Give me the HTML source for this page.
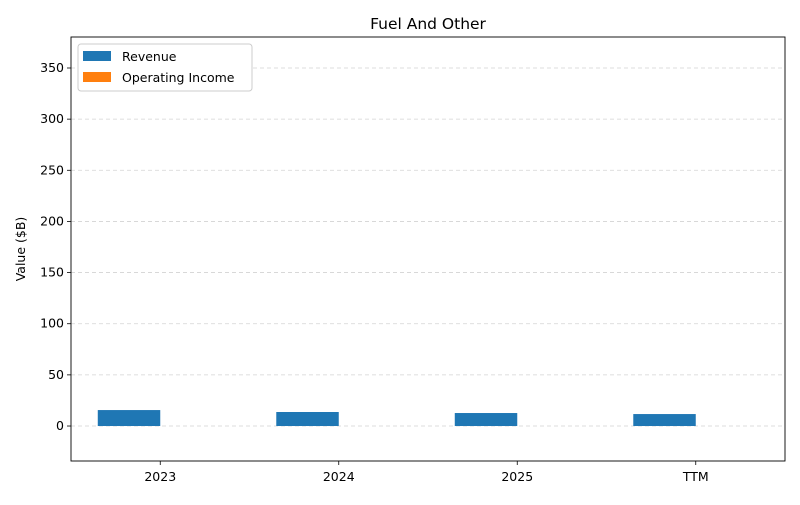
<!DOCTYPE html>
<html><head><meta charset="utf-8"><style>
body{margin:0;background:#fff;font-family:"Liberation Sans","DejaVu Sans",sans-serif}
svg text{font-family:"DejaVu Sans","Liberation Sans",sans-serif}
</style></head><body>
<svg id="c" width="800" height="500" viewBox="0 0 800 500"></svg>
<script>
const categories=["2023","2024","2025","TTM"];
const revenue=[15.6,13.7,12.7,11.7];
const operatingIncome=[0,0,0,0];
const yTicks=[0,50,100,150,200,250,300,350];
const L=71,R=785,T=37,B=461,yMin=-34.2,yMax=380.3;
const NS="http://www.w3.org/2000/svg";
const svg=document.getElementById('c');
function y(v){return B-(v-yMin)/(yMax-yMin)*(B-T);}
const step=(R-L)/categories.length;
function xc(i){return L+step*(i+0.5);}
const bw=step*0.35;
function el(t,a,p){const e=document.createElementNS(NS,t);for(const k in a)e.setAttribute(k,a[k]);(p||svg).appendChild(e);return e;}
// grid
yTicks.forEach(v=>{
 const g=el('line',{x1:L,x2:R,y1:y(v),y2:y(v),stroke:'#d3d3d3','stroke-dasharray':'4,3','stroke-width':0.8});
 
 
 el('line',{x1:L-4,x2:L,y1:y(v),y2:y(v),stroke:'#000','stroke-width':0.8});
 const t=el('text',{x:L-7,y:y(v)+4,'text-anchor':'end','font-size':12.5});
 t.textContent=v;
 
 
});
categories.forEach((c,i)=>{
 const r=el('rect',{x:xc(i)-bw,y:y(Math.max(revenue[i],0)),width:bw,height:Math.abs(y(revenue[i])-y(0)),fill:'#1f77b4'});
 
 
 const o=el('rect',{x:xc(i),y:y(Math.max(operatingIncome[i],0)),width:bw,height:Math.abs(y(operatingIncome[i])-y(0)),fill:'#ff7f0e'});
 
 
 el('line',{x1:xc(i),x2:xc(i),y1:B,y2:B+4,stroke:'#000','stroke-width':0.8});
 const t=el('text',{x:xc(i),y:B+20,'text-anchor':'middle','font-size':12.5});
 t.textContent=c;
 
 
});
const f=el('rect',{x:L,y:T,width:R-L,height:B-T,fill:'none',stroke:'#000','stroke-width':0.9});


</script>
<svg width="800" height="500" style="position:absolute;left:0;top:0">
<text x="428" y="29" text-anchor="middle" font-size="15.5">Fuel And Other</text>
<text x="25" y="249" text-anchor="middle" font-size="12.5" transform="rotate(-90 25 249)">Value ($B)</text>
<g>
<rect x="78" y="44" width="174" height="47" rx="3" fill="#fff" stroke="#ccc"/>
<rect x="83" y="51" width="28" height="10" fill="#1f77b4"/>
<text x="122" y="61" font-size="12.5">Revenue</text>
<rect x="83" y="72" width="28" height="10" fill="#ff7f0e"/>
<text x="122" y="82" font-size="12.5">Operating Income</text>
</g>
</svg>
</body></html>
